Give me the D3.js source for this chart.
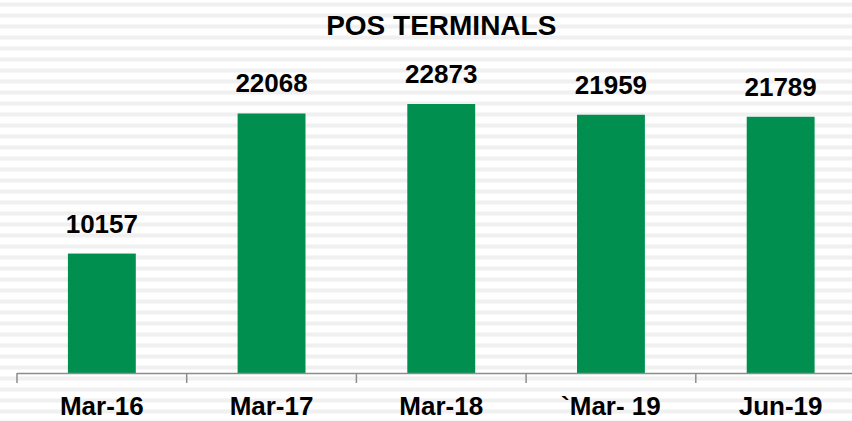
<!DOCTYPE html>
<html>
<head>
<meta charset="utf-8">
<script src="https://cdn.jsdelivr.net/npm/d3@7"></script>
<style>
  html, body { margin: 0; padding: 0; background: #ffffff; }
  svg { display: block; }
  text { font-family: "Liberation Sans", Arial, sans-serif; font-weight: bold; fill: #000; }
</style>
</head>
<body>
<svg id="chart" width="852" height="421"></svg>
<script>
// POS terminal counts by period
const categories = ["Mar-16", "Mar-17", "Mar-18", "`Mar- 19", "Jun-19"];
const terminals = [10157, 22068, 22873, 21959, 21789];
const chartTitle = "POS TERMINALS";

const width = 852, height = 421;
const svg = d3.select("#chart");

// striped background fill
const defs = svg.append("defs");
const pat = defs.append("pattern")
  .attr("id", "stripes")
  .attr("patternUnits", "userSpaceOnUse")
  .attr("width", 10).attr("height", 11)
  .attr("y", 2);
pat.append("rect").attr("width", 10).attr("height", 11).attr("fill", "#ffffff");
pat.append("rect").attr("y", 0).attr("width", 10).attr("height", 1).attr("fill", "#f7f7f7");
pat.append("rect").attr("y", 1).attr("width", 10).attr("height", 3).attr("fill", "#f0f0f0");
pat.append("rect").attr("y", 4).attr("width", 10).attr("height", 1).attr("fill", "#f7f7f7");
svg.append("rect").attr("width", width).attr("height", height).attr("fill", "url(#stripes)");

const plotLeft = 17, plotRight = 865.5, baseline = 373;

const x = d3.scaleBand()
  .domain(categories)
  .range([plotLeft, plotRight])
  .paddingInner(0.6)
  .paddingOuter(0.3);

const y = d3.scaleLinear()
  .domain([0, 25000])
  .range([baseline, 79]);

// bars
svg.append("g").selectAll("rect")
  .data(categories)
  .join("rect")
  .attr("x", d => x(d))
  .attr("y", (d, i) => y(terminals[i]))
  .attr("width", x.bandwidth())
  .attr("height", (d, i) => y(0) - y(terminals[i]))
  .attr("fill", "#008f4f");

// value labels
svg.append("g").selectAll("text")
  .data(categories)
  .join("text")
  .attr("x", d => x(d) + x.bandwidth() / 2)
  .attr("y", (d, i) => y(terminals[i]) - 21)
  .attr("text-anchor", "middle")
  .style("font-size", "26px")
  .text((d, i) => terminals[i]);

// category axis: baseline with ticks between categories
const axis = svg.append("g").attr("transform", `translate(0,${baseline})`);
const gap = x.step() - x.bandwidth();
const boundaries = categories.map(c => x(c) - gap / 2).concat([x(categories[categories.length - 1]) + x.bandwidth() + gap / 2]);
axis.append("line")
  .attr("x1", plotLeft).attr("x2", plotRight)
  .attr("y1", 0.5).attr("y2", 0.5)
  .attr("stroke", "#8c8c8c").attr("stroke-width", 1.5);
axis.selectAll("line.tick")
  .data(boundaries)
  .join("line")
  .attr("class", "tick")
  .attr("x1", d => d).attr("x2", d => d)
  .attr("y1", 0).attr("y2", 10)
  .attr("stroke", "#8c8c8c").attr("stroke-width", 1.5);
axis.selectAll("text")
  .data(categories)
  .join("text")
  .attr("x", d => x(d) + x.bandwidth() / 2)
  .attr("y", 42)
  .attr("text-anchor", "middle")
  .style("font-size", "26px")
  .text(d => d);

// title
svg.append("text")
  .attr("x", (plotLeft + plotRight) / 2)
  .attr("y", 35)
  .attr("text-anchor", "middle")
  .style("font-size", "28px")
  .text(chartTitle);
</script>
</body>
</html>
